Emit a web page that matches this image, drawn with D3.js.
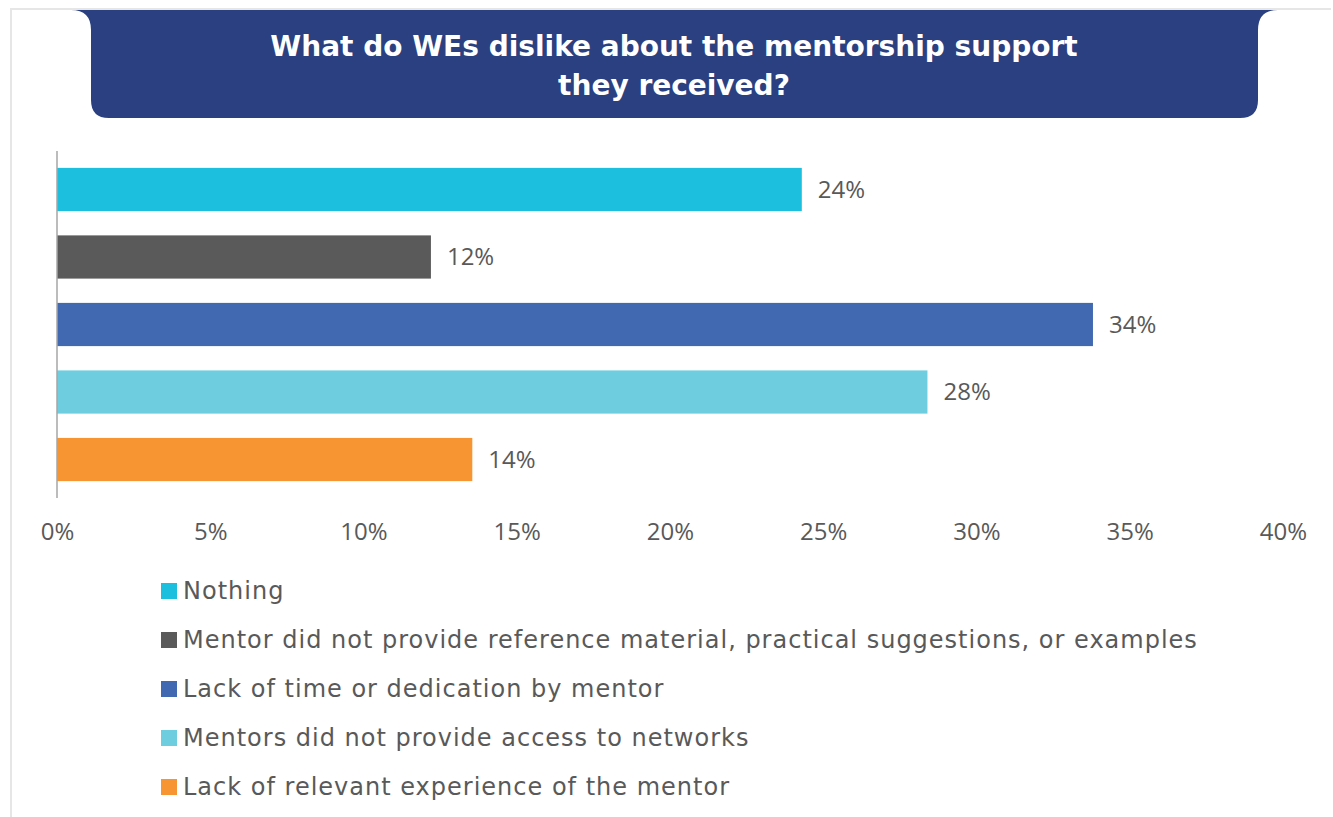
<!DOCTYPE html>
<html>
<head>
<meta charset="utf-8">
<script src="https://cdn.jsdelivr.net/npm/d3@7"></script>
<style>
  html, body { margin: 0; padding: 0; background: #ffffff; }
  svg { display: block; }
</style>
</head>
<body>
<svg id="chart" width="1333" height="817"></svg>
<script>
// Survey answers, in the order they are drawn from top to bottom
const categories = [
  "Nothing",
  "Mentor did not provide reference material, practical suggestions, or examples",
  "Lack of time or dedication by mentor",
  "Mentors did not provide access to networks",
  "Lack of relevant experience of the mentor"
];
const shares = [0.243, 0.122, 0.338, 0.284, 0.1355];
const barColors = ["#1DBFDE", "#5A5A5A", "#4169B1", "#6FCDE0", "#F79533"];
const tickValues = [0, 0.05, 0.10, 0.15, 0.20, 0.25, 0.30, 0.35, 0.40];
const titleLines = ["What do WEs dislike about the mentorship support", "they received?"];

const svg = d3.select("#chart");
const textGrey = "#595959";

// light frame along the top and left edges
svg.append("line").attr("x1", 10).attr("x2", 1331).attr("y1", 9).attr("y2", 9)
  .attr("stroke", "#e6e6e6").attr("stroke-width", 2);
svg.append("line").attr("x1", 11).attr("x2", 11).attr("y1", 8).attr("y2", 817)
  .attr("stroke", "#e6e6e6").attr("stroke-width", 2);

// title banner: flared top corners, rounded bottom corners
const bx0 = 91, bx1 = 1258, by0 = 10, by1 = 118, flare = 20, r = 18;
const banner = d3.path();
banner.moveTo(bx0 - flare, by0);
banner.lineTo(bx1 + flare, by0);
banner.quadraticCurveTo(bx1, by0, bx1, by0 + flare);
banner.lineTo(bx1, by1 - r);
banner.quadraticCurveTo(bx1, by1, bx1 - r, by1);
banner.lineTo(bx0 + r, by1);
banner.quadraticCurveTo(bx0, by1, bx0, by1 - r);
banner.lineTo(bx0, by0 + flare);
banner.quadraticCurveTo(bx0, by0, bx0 - flare, by0);
banner.closePath();
svg.append("path").attr("d", banner.toString()).attr("fill", "#2A4080");

svg.append("g").selectAll("text").data(titleLines).join("text")
  .attr("x", 674)
  .attr("y", (d, i) => 56 + i * 39)
  .attr("text-anchor", "middle")
  .attr("fill", "#ffffff")
  .attr("font-family", "'DejaVu Sans', Verdana, sans-serif")
  .attr("font-weight", "bold")
  .attr("font-size", 28)
  .text(d => d);

// scales
const x = d3.scaleLinear().domain([0, 0.40]).range([57, 1283]);
const y = d3.scaleBand().domain(categories).range([151, 498])
  .paddingInner(0.36).paddingOuter(0.25);
const color = d3.scaleOrdinal().domain(categories).range(barColors);

const data = categories.map((c, i) => ({ category: c, value: shares[i] }));

// bars
svg.append("g").selectAll("rect").data(data).join("rect")
  .attr("x", x(0))
  .attr("y", d => y(d.category))
  .attr("width", d => x(d.value) - x(0))
  .attr("height", y.bandwidth())
  .attr("fill", d => color(d.category));

// value labels
const pct = d3.format(".0%");
svg.append("g").selectAll("text").data(data).join("text")
  .attr("x", d => x(d.value) + 16)
  .attr("y", d => y(d.category) + y.bandwidth() / 2)
  .attr("dy", "0.35em")
  .attr("fill", textGrey)
  .attr("font-family", "'Open Sans', sans-serif")
  .attr("font-size", 24)
  .text(d => pct(d.value));

// vertical category axis line
svg.append("line")
  .attr("x1", x(0)).attr("x2", x(0))
  .attr("y1", 151).attr("y2", 498)
  .attr("stroke", "#a6a6a6").attr("stroke-width", 1.5);

// x axis tick labels only
const xAxis = d3.axisBottom(x).tickValues(tickValues).tickFormat(pct).tickSize(0).tickPadding(0);
const gx = svg.append("g").attr("transform", "translate(0,523)").call(xAxis);
gx.select(".domain").remove();
gx.selectAll("text")
  .attr("fill", textGrey)
  .attr("font-family", "'Open Sans', sans-serif")
  .attr("font-size", 24);

// legend
const legend = svg.append("g").selectAll("g").data(categories).join("g")
  .attr("transform", (d, i) => `translate(161, ${591 + i * 49})`);
legend.append("rect")
  .attr("x", 0).attr("y", -8).attr("width", 16).attr("height", 16)
  .attr("fill", d => color(d));
legend.append("text")
  .attr("x", 22).attr("y", 0).attr("dy", "0.35em")
  .attr("fill", textGrey)
  .attr("font-family", "'DejaVu Sans', Verdana, sans-serif")
  .attr("font-size", 24)
  .attr("letter-spacing", 1)
  .text(d => d);
</script>
</body>
</html>
